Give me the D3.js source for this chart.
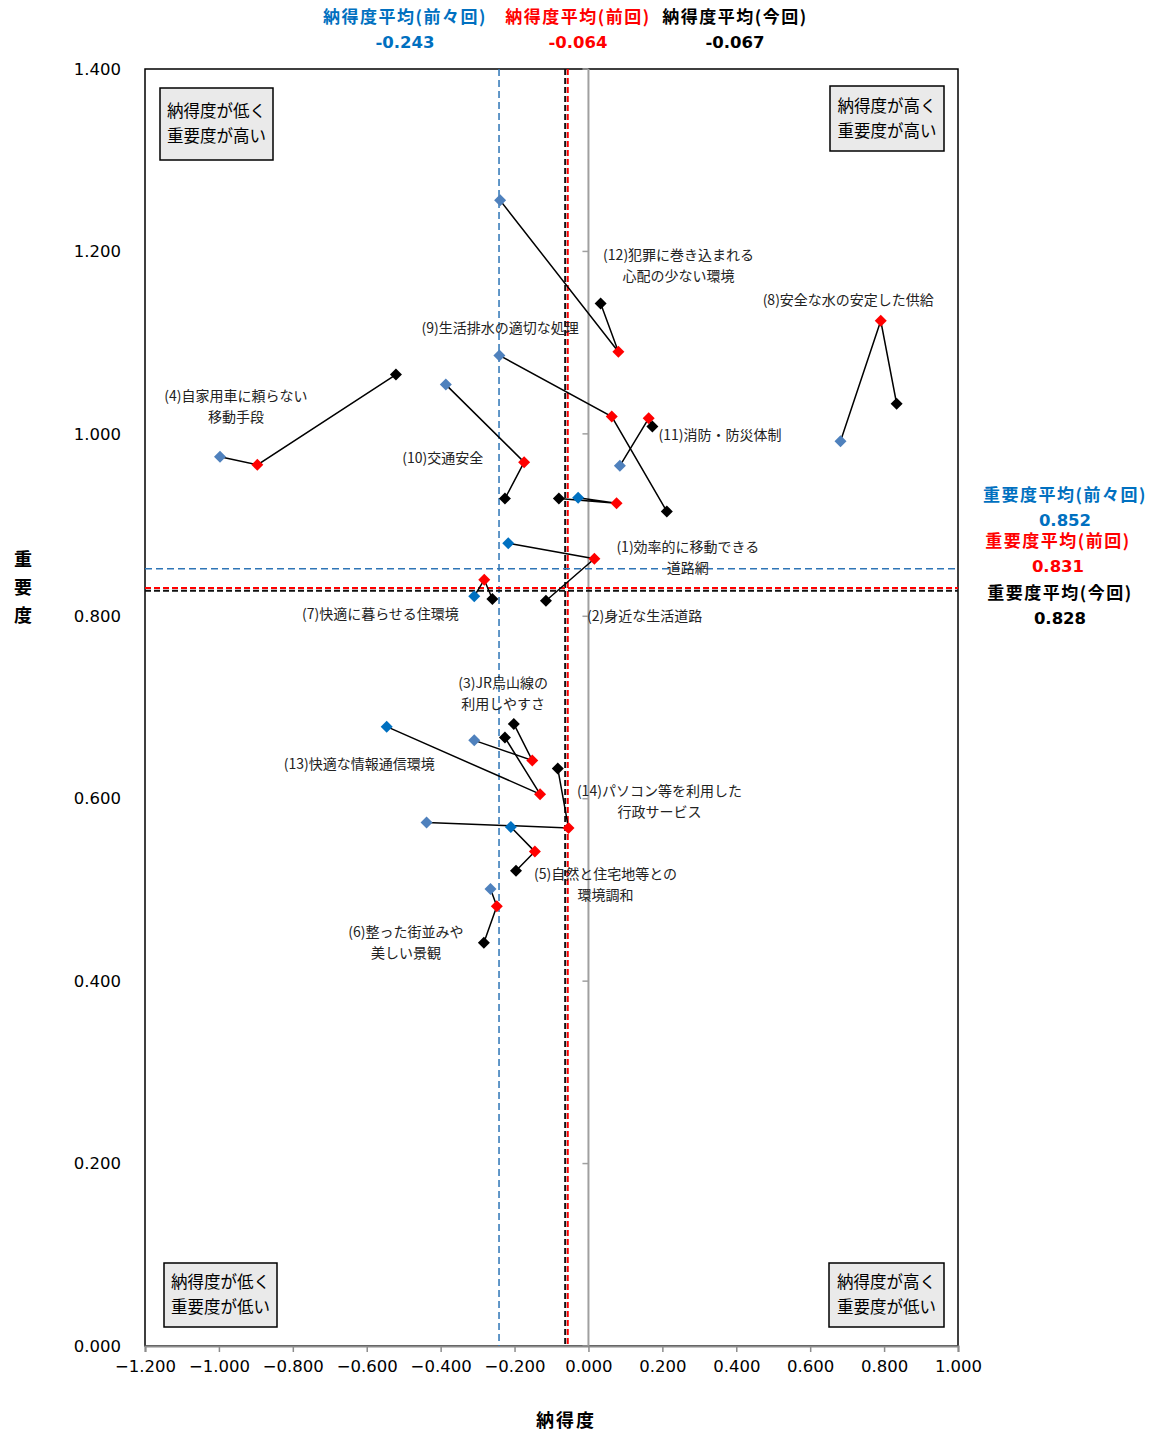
<!DOCTYPE html>
<html><head><meta charset="utf-8">
<script src="https://cdn.jsdelivr.net/npm/d3@7"></script>
<style>body{margin:0;background:#fff} svg{display:block}</style>
</head><body><svg id="c" width="1153" height="1434"></svg>
<script>
// ---------- data ----------
const itemLabels = [
  ["(1)効率的に移動できる","道路網"],
  ["(2)身近な生活道路"],
  ["(3)JR烏山線の","利用しやすさ"],
  ["(4)自家用車に頼らない","移動手段"],
  ["(5)自然と住宅地等との","環境調和"],
  ["(6)整った街並みや","美しい景観"],
  ["(7)快適に暮らせる住環境"],
  ["(8)安全な水の安定した供給"],
  ["(9)生活排水の適切な処理"],
  ["(10)交通安全"],
  ["(11)消防・防災体制"],
  ["(12)犯罪に巻き込まれる","心配の少ない環境"],
  ["(13)快適な情報通信環境"],
  ["(14)パソコン等を利用した","行政サービス"]
];
// 前々回 (two surveys ago)
const satPrev2 = [-0.217,-0.028,-0.309,-0.997,-0.210,-0.265,-0.309, 0.682,-0.241,-0.386, 0.085,-0.239,-0.546,-0.438];
const impPrev2 = [ 0.880, 0.930, 0.664, 0.975, 0.569, 0.501, 0.822, 0.992, 1.086, 1.054, 0.965, 1.256, 0.679, 0.574];
// 前回 (previous survey)
const satPrev  = [ 0.016, 0.076,-0.152,-0.896,-0.145,-0.248,-0.282, 0.791, 0.063,-0.174, 0.163, 0.081,-0.131,-0.054];
const impPrev  = [ 0.863, 0.924, 0.642, 0.966, 0.542, 0.482, 0.840, 1.124, 1.019, 0.969, 1.017, 1.090, 0.605, 0.568];
// 今回 (current survey)
const satCurr  = [-0.115,-0.080,-0.202,-0.521,-0.196,-0.283,-0.260, 0.834, 0.212,-0.226, 0.173, 0.033,-0.226,-0.083];
const impCurr  = [ 0.817, 0.929, 0.682, 1.065, 0.521, 0.442, 0.819, 1.033, 0.915, 0.929, 1.008, 1.143, 0.667, 0.633];

// annotation anchor (data units, centre of first line)
const labelSat = [ 0.269, 0.152,-0.231,-0.954, 0.046,-0.494,-0.563, 0.703,-0.239,-0.394, 0.356, 0.244,-0.620, 0.192];
const labelImp = [ 0.876, 0.800, 0.727, 1.042, 0.518, 0.454, 0.802, 1.147, 1.116, 0.974, 0.999, 1.196, 0.638, 0.609];

const avgSatNames = ["納得度平均(前々回)","納得度平均(前回)","納得度平均(今回)"];
const avgSatValues = [-0.243,-0.064,-0.067];
// where the average reference lines sit in the picture
const avgSatLineAt = [-0.242,-0.056,-0.063];
const avgImpNames = ["重要度平均(前々回)","重要度平均(前回)","重要度平均(今回)"];
const avgImpValues = [0.852,0.831,0.828];

const xTicks = [-1.2,-1.0,-0.8,-0.6,-0.4,-0.2,0,0.2,0.4,0.6,0.8,1.0];
const yTicks = [0,0.2,0.4,0.6,0.8,1.0,1.2,1.4];
const quadrantTexts = [["納得度が低く","重要度が高い"],["納得度が高く","重要度が高い"],["納得度が低く","重要度が低い"],["納得度が高く","重要度が低い"]];

// ---------- style ----------
const brightBlueItems = new Set([0,1,4,6,12]);
const C_BLUE = "#0070C0", C_STEEL = "#4F81BD", C_RED = "#FF0000", C_BLACK = "#000000";
const avgColors = [C_BLUE, C_RED, C_BLACK];
const avgLineColors = ["#2E75B6", C_RED, "#111"];
const JP = "'Noto Sans CJK JP','Noto Sans',sans-serif";
const NUM = "'DejaVu Sans',Verdana,sans-serif";

const svg = d3.select("#c");
const L = 145, R = 958, T = 69, B = 1346;
const x = d3.scaleLinear([-1.2, 1.0], [L, R]);
const y = d3.scaleLinear([0, 1.4], [B, T]);
const fmt = d3.format(".3f");

// frame
svg.append("rect").attr("x", L).attr("y", T).attr("width", R - L).attr("height", B - T)
  .attr("fill", "none").attr("stroke", "#000").attr("stroke-width", 1.5);

// zero line with y ticks
svg.append("line").attr("x1", x(0)).attr("x2", x(0)).attr("y1", T).attr("y2", B)
  .attr("stroke", "#A0A0A0").attr("stroke-width", 2);
svg.append("g").selectAll("line").data(yTicks).join("line")
  .attr("x1", x(0) - 6).attr("x2", x(0)).attr("y1", d => y(d)).attr("y2", d => y(d))
  .attr("stroke", "#A0A0A0").attr("stroke-width", 1.5);

// y tick labels
const ya = svg.append("g").attr("transform", `translate(${L},0)`)
  .call(d3.axisLeft(y).tickValues(yTicks).tickFormat(fmt).tickSize(0).tickPadding(24));
ya.select(".domain").remove();
ya.selectAll("text").attr("font-family", NUM).attr("font-size", 16.5).attr("fill", "#000");

// x axis
const xa = svg.append("g").attr("transform", `translate(0,${B})`)
  .call(d3.axisBottom(x).tickValues(xTicks).tickFormat(fmt).tickSize(6));
xa.select(".domain").attr("stroke", "#8C8C8C").attr("stroke-width", 2);
xa.selectAll(".tick line").attr("stroke", "#8C8C8C").attr("stroke-width", 1.5);
xa.selectAll("text").attr("font-family", NUM).attr("font-size", 16.5).attr("fill", "#000").attr("y", 14);

// average lines
const dash = ["7,4", "6,3", "6,3"];
const widths = [1.5, 2, 2];
avgSatLineAt.forEach((v, i) => {
  svg.append("line").attr("x1", x(v)).attr("x2", x(v)).attr("y1", T).attr("y2", B)
    .attr("stroke", avgLineColors[i]).attr("stroke-width", widths[i]).attr("stroke-dasharray", dash[i]);
});
avgImpValues.forEach((v, i) => {
  svg.append("line").attr("x1", L).attr("x2", R).attr("y1", y(v)).attr("y2", y(v))
    .attr("stroke", avgLineColors[i]).attr("stroke-width", widths[i]).attr("stroke-dasharray", dash[i]);
});

// connecting lines
const idx = d3.range(itemLabels.length);
const lineGen = d3.line().x(d => x(d[0])).y(d => y(d[1]));
svg.append("g").selectAll("path").data(idx).join("path")
  .attr("d", i => lineGen([[satPrev2[i], impPrev2[i]], [satPrev[i], impPrev[i]], [satCurr[i], impCurr[i]]]))
  .attr("fill", "none").attr("stroke", "#000").attr("stroke-width", 1.5);

// markers
const diamond = "M0,-6L6,0L0,6L-6,0Z";
function markers(sx, sy, col) {
  svg.append("g").selectAll("path").data(idx).join("path")
    .attr("d", diamond)
    .attr("transform", i => `translate(${x(sx[i])},${y(sy[i])})`)
    .attr("fill", col);
}
markers(satPrev2, impPrev2, i => brightBlueItems.has(i) ? C_BLUE : C_STEEL);
markers(satPrev, impPrev, C_RED);
markers(satCurr, impCurr, C_BLACK);

// item labels
idx.forEach(i => {
  const t = svg.append("text").attr("font-family", JP).attr("font-size", 14).attr("fill", "#222")
    .attr("text-anchor", "middle");
  itemLabels[i].forEach((s, k) => {
    t.append("tspan").attr("x", x(labelSat[i])).attr("y", y(labelImp[i]) + 5 + k * 21).text(s);
  });
});

// quadrant boxes
const qBoxes = [{x:160,y:88,w:113,h:72},{x:830,y:86,w:114,h:65},{x:164,y:1263,w:113,h:64},{x:829,y:1263,w:115,h:64}];
qBoxes.forEach((b, i) => {
  svg.append("rect").attr("x", b.x).attr("y", b.y).attr("width", b.w).attr("height", b.h)
    .attr("fill", "#EAEAEA").attr("stroke", "#000").attr("stroke-width", 1.5);
  quadrantTexts[i].forEach((s, k) => {
    svg.append("text").attr("x", b.x + b.w / 2).attr("y", b.y + b.h / 2 - 12.5 + k * 25)
      .attr("dy", "0.35em").attr("text-anchor", "middle")
      .attr("font-family", JP).attr("font-size", 16.5).attr("fill", "#000").text(s);
  });
});

// top averages
const topCx = [405, 578, 735];
avgSatNames.forEach((s, i) => {
  svg.append("text").attr("x", topCx[i]).attr("y", 17).attr("dy", "0.35em").attr("text-anchor", "middle")
    .attr("font-family", JP).attr("font-weight", "bold").attr("font-size", 17).attr("letter-spacing", 1.5)
    .attr("fill", avgColors[i]).text(s);
  svg.append("text").attr("x", topCx[i]).attr("y", 42).attr("dy", "0.35em").attr("text-anchor", "middle")
    .attr("font-family", NUM).attr("font-weight", "bold").attr("font-size", 16.5)
    .attr("fill", avgColors[i]).text(avgSatValues[i].toFixed(3));
});

// right averages
const rightCx = [1065, 1058, 1060];
const rightTy = [495, 541, 593];
avgImpNames.forEach((s, i) => {
  svg.append("text").attr("x", rightCx[i]).attr("y", rightTy[i]).attr("dy", "0.35em").attr("text-anchor", "middle")
    .attr("font-family", JP).attr("font-weight", "bold").attr("font-size", 17).attr("letter-spacing", 1.5)
    .attr("fill", avgColors[i]).text(s);
  svg.append("text").attr("x", rightCx[i]).attr("y", rightTy[i] + 25).attr("dy", "0.35em").attr("text-anchor", "middle")
    .attr("font-family", NUM).attr("font-weight", "bold").attr("font-size", 16.5)
    .attr("fill", avgColors[i]).text(avgImpValues[i].toFixed(3));
});

// axis titles
svg.append("text").attr("x", 566).attr("y", 1421).attr("dy", "0.35em").attr("text-anchor", "middle")
  .attr("font-family", JP).attr("font-weight", "bold").attr("font-size", 18).attr("letter-spacing", 2).text("納得度");
["重","要","度"].forEach((c, k) => {
  svg.append("text").attr("x", 23).attr("y", 560 + k * 28).attr("dy", "0.35em").attr("text-anchor", "middle")
    .attr("font-family", JP).attr("font-weight", "bold").attr("font-size", 18).text(c);
});
</script></body></html>
